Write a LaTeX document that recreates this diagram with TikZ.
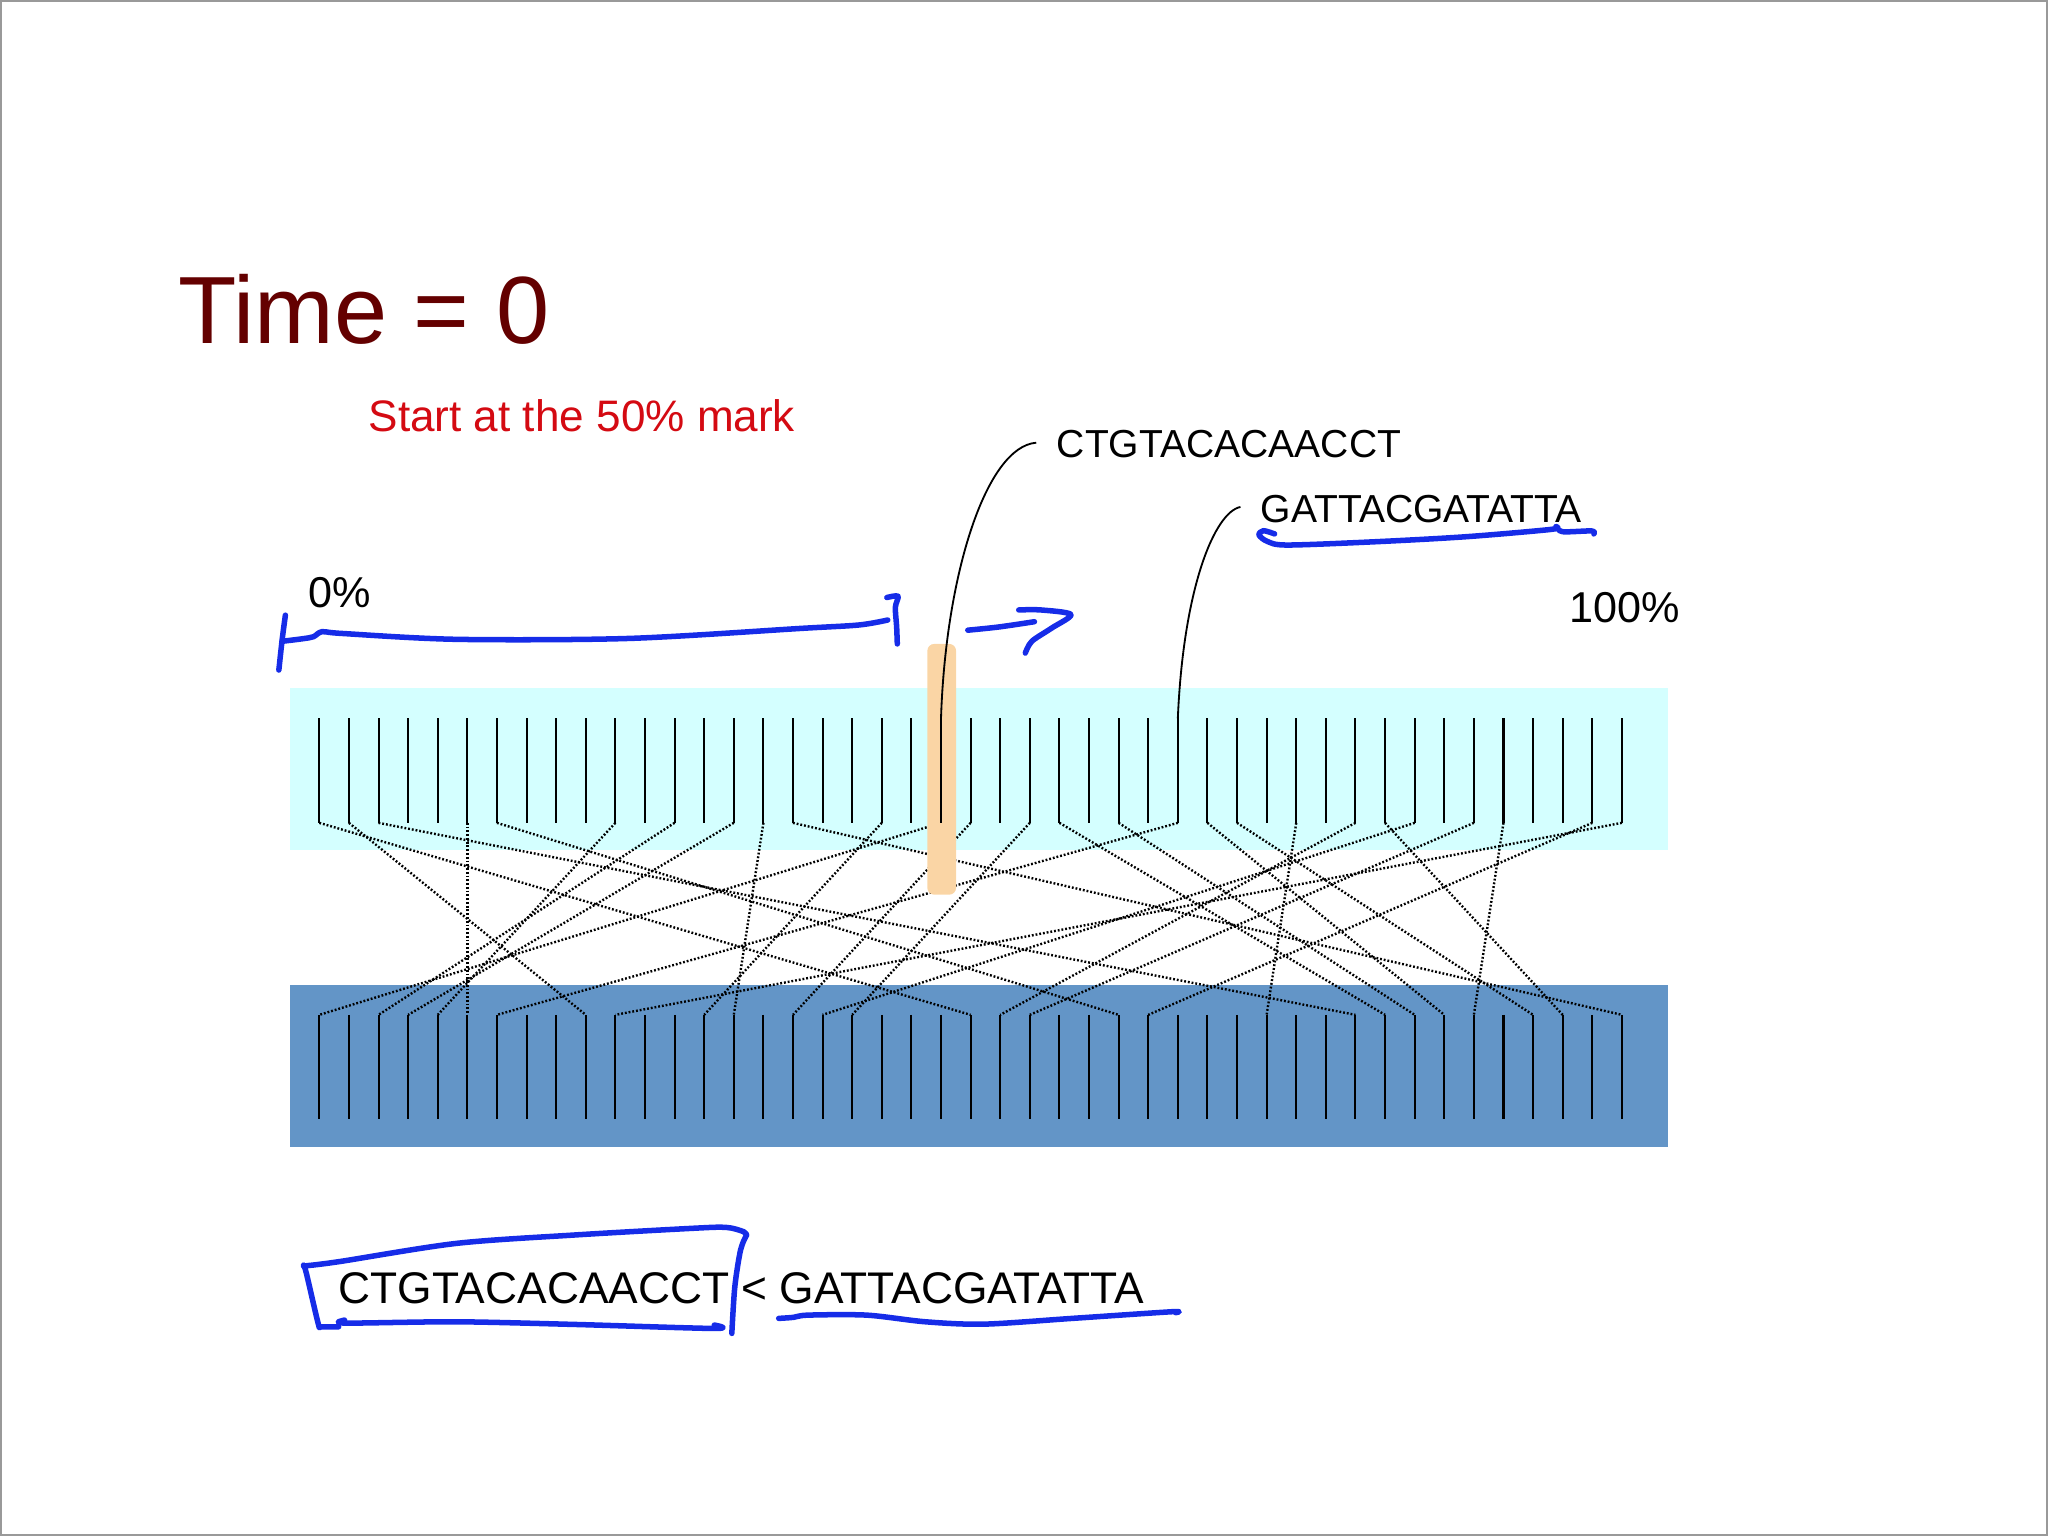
\documentclass[tikz,border=0pt]{standalone}
\usepackage{fontspec}
\setmainfont{Liberation Sans}
\definecolor{timered}{RGB}{100,0,0}
\definecolor{markred}{RGB}{212,10,18}
\definecolor{topcyan}{RGB}{212,255,255}
\definecolor{botblue}{RGB}{99,149,199}
\definecolor{barpeach}{RGB}{250,213,165}
\definecolor{penblue}{RGB}{22,44,232}

\begin{document}
\begin{tikzpicture}[x=0.01cm,y=-0.01cm]

\tikzstyle{mytooth}=[line width=0.45pt]
\tikzstyle{mylink}=[line width=0.52pt, dash pattern=on 0.4pt off 0.42pt]
\tikzstyle{mypointer}=[line width=0.4pt]
\tikzstyle{mypen}=[draw=penblue, line width=1.2pt, line cap=round, line join=round]
\tikzstyle{mylabel}=[anchor=west, inner sep=0pt]

\useasboundingbox (0,0) rectangle (1568,1176);
\draw[gray!80, line width=0.6pt] (0.5,0.5) rectangle (1567.5,1175.5);

\fill[topcyan] (222,527) rectangle (1277,651);
\fill[botblue] (222,754) rectangle (1277,878);

\foreach \i in {0,...,44} {
    \coordinate (top\i) at ({244.5+22.665*\i},550);
    \coordinate (topend\i) at ({244.5+22.665*\i},630);
    \coordinate (bot\i) at ({244.5+22.665*\i},777);
    \coordinate (botend\i) at ({244.5+22.665*\i},857);
}

\foreach \a/\b in {0/22, 1/9, 2/35, 5/5, 6/27, 10/4, 12/2, 14/3, 15/14,
    16/44, 19/13, 21/0, 22/16, 24/18, 25/36, 27/37, 29/6, 30/38, 31/41,
    33/32, 35/23, 36/42, 37/17, 39/24, 40/39, 43/28, 44/10}
    \draw[mylink] (topend\a) -- (bot\b);

\fill[barpeach, rounded corners=1.5] (710,493) rectangle (732,685);

\foreach \i in {0,...,44} {
    \draw[mytooth] (top\i) -- (topend\i);
    \draw[mytooth] (bot\i) -- (botend\i);
}

\node[mylabel, text=timered, font=\fontsize{20.8pt}{24pt}\selectfont] (time) at (136,236.7) {Time = 0};
\node[mylabel, text=markred, font=\fontsize{9.6pt}{11pt}\selectfont] (mark) at (281.5,318) {Start at the 50\% mark};
\node[mylabel, font=\fontsize{8.5pt}{10pt}\selectfont] (ctg) at (808.5,340) {CTGTACACAACCT};
\node[mylabel, font=\fontsize{8.5pt}{10pt}\selectfont] (gat) at (964.5,389.9) {GATTACGATATTA};
\node[mylabel, font=\fontsize{9.4pt}{11pt}\selectfont] (zero) at (235.5,453.6) {0\%};
\node[mylabel, font=\fontsize{9.4pt}{11pt}\selectfont] (full) at (1201,465) {100\%};
\node[mylabel, font=\fontsize{9.65pt}{11pt}\selectfont] (cmp) at (258.5,986.5) {CTGTACACAACCT < GATTACGATATTA};

\draw[mypointer] ([xshift=-4.3pt,yshift=0.3pt]ctg.west) .. controls (755,342) and (724,440) .. (top21);
\draw[mypointer] ([xshift=-4.2pt,yshift=0.5pt]gat.west) .. controls (930,392) and (906,450) .. (top29);

\draw[mypen] plot[smooth] coordinates {(218.5,471) (216,490) (213.5,513)};
\draw[mypen] plot[smooth] coordinates {(216,491) (232,489) (240,487.5) (246.7,483.6) (262,485) (350,489.5) (481.8,488.8) (613.7,481.1) (657.7,478.5) (679.7,474.7)};
\draw[mypen] plot[smooth] coordinates {(679,457.5) (687.5,456.5) (685.5,465) (686.5,480) (687,493)};
\draw[mypen] plot[smooth] coordinates {(741,482.5) (765,480) (792,476)};
\draw[mypen] plot[smooth] coordinates {(780,467) (797,467) (820,470.5) (805,481) (790,491) (785,500)};
\draw[mypen] plot[smooth] coordinates {(975.9,408.8) (967.3,406.3) (963.9,409.6) (970.7,414.7) (986.1,417.3) (1054.5,414.7) (1122.9,410.9) (1187.8,405.3) (1191.3,403.2) (1196.4,407.1) (1218.6,406.5) (1220.3,408.8)};

\draw[mypen] plot[smooth] coordinates {(232.4,968.6) (234.6,975) (243.6,1013.2) (245.9,1015.8) (259.3,1015.8)};
\draw[mypen] plot[smooth] coordinates {(232.4,969.3) (259.3,966) (349.2,952) (439,945.6) (528.9,940.5) (555.8,939.7) (569.3,943) (571.6,945.6)};
\draw[mypen] plot[smooth] coordinates {(571.6,945.6) (567,957) (562.6,985.2) (560.3,1020.9)};
\draw[mypen] plot[smooth] coordinates {(263.8,1010.7) (264.5,1013) (349.2,1012) (439,1014) (546.9,1017.1) (546.9,1014.5)};
\draw[mypen] plot[smooth] coordinates {(596.2,1009.4) (607.5,1008.6) (618.7,1006.9) (663.6,1006.9) (708.6,1012) (753.5,1013.8) (820.9,1009.4) (897.2,1004.3) (900,1005)};

\end{tikzpicture}
\end{document}
